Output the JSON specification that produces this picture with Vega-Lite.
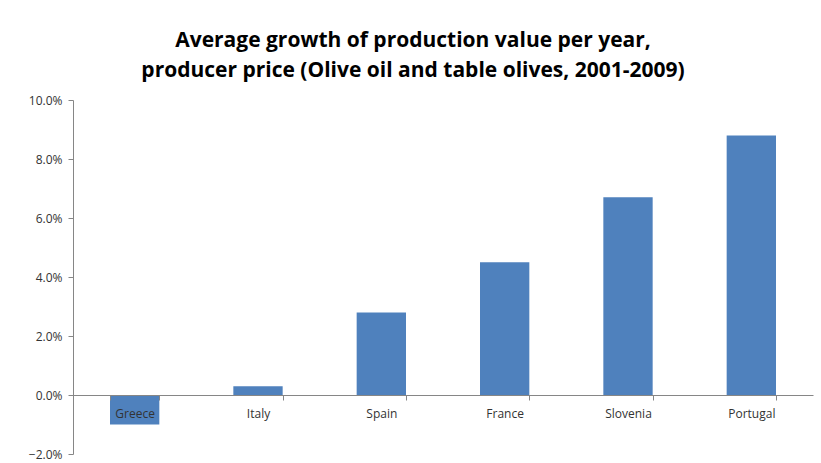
{
  "$schema": "https://vega.github.io/schema/vega-lite/v6.json",
  "width": 740,
  "height": 354,
  "autosize": {"type": "none"},
  "padding": {"left": 73, "top": 100, "right": 8, "bottom": 9},
  "background": "white",
  "title": {
    "text": ["Average growth of production value per year,", "producer price (Olive oil and table olives, 2001-2009)"],
    "font": "Open Sans",
    "fontSize": 21,
    "fontWeight": "bold",
    "color": "#000000",
    "anchor": "middle",
    "dx": -30,
    "offset": 13,
    "lineHeight": 30
  },
  "config": {"view": {"stroke": null}},
  "data": {
    "values": [
      {"country": "Greece", "growth": -0.010},
      {"country": "Italy", "growth": 0.003},
      {"country": "Spain", "growth": 0.028},
      {"country": "France", "growth": 0.045},
      {"country": "Slovenia", "growth": 0.067},
      {"country": "Portugal", "growth": 0.088}
    ]
  },
  "mark": {"type": "bar", "color": "#4F81BD"},
  "encoding": {
    "x": {
      "field": "country",
      "type": "nominal",
      "sort": null,
      "scale": {"paddingInner": 0.6, "paddingOuter": 0.3},
      "axis": {
        "title": null,
        "labelAngle": 0,
        "offset": -59,
        "zindex": 1,
        "domainColor": "#868686",
        "tickColor": "#868686",
        "tickBand": "extent",
        "tickSize": 5,
        "labelFont": "Open Sans",
        "labelFontSize": 12,
        "labelColor": "#333333",
        "labelPadding": 8
      }
    },
    "y": {
      "field": "growth",
      "type": "quantitative",
      "scale": {"domain": [-0.02, 0.10], "nice": false},
      "axis": {
        "title": null,
        "format": ".1%",
        "values": [-0.02, 0, 0.02, 0.04, 0.06, 0.08, 0.10],
        "grid": false,
        "domainColor": "#868686",
        "tickColor": "#868686",
        "tickSize": 5,
        "labelFont": "Open Sans",
        "labelFontSize": 12,
        "labelColor": "#333333",
        "labelPadding": 6
      }
    }
  }
}
